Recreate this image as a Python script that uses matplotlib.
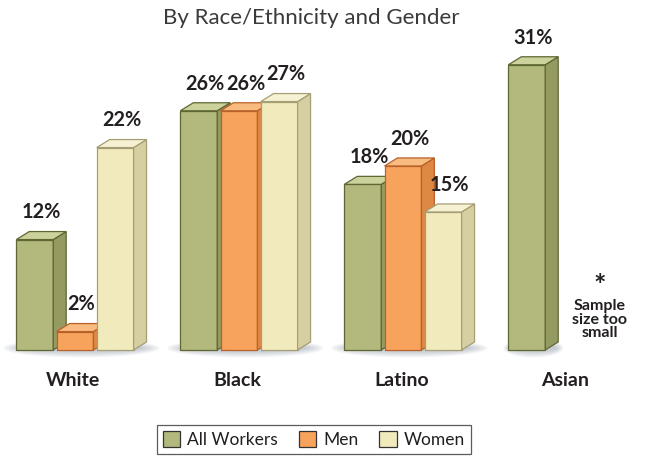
import matplotlib.pyplot as plt
from matplotlib.patches import Polygon, Patch, Ellipse
import numpy as np

# data
groups = ['White', 'Black', 'Latino', 'Asian']
series = ['All Workers', 'Men', 'Women']
all_workers = [12, 26, 18, 31]
men = [2, 26, 20, None]
women = [22, 27, 15, None]

front = ['#b3b87c', '#f7a35c', '#f0eabd']
side = ['#949a60', '#df8843', '#d6cfa2']
top = ['#cdd29d', '#f9bb80', '#f6f1d2']
edge = ['#5e6733', '#b8622a', '#a69e74']

plt.rcParams['font.family'] = ['Lato', 'DejaVu Sans']

fig = plt.figure(figsize=(6.48, 4.61), dpi=100)
ax = fig.add_axes([0, 0, 1, 1])
ax.set_xlim(-0.457, 3.494)
ax.set_ylim(-12.07, 38.04)
ax.axis('off')

w = 0.225
offs = [-0.245, 0.0, 0.245]
dx, dy = 0.079, 0.87

# soft shadow under bars
for i in range(4):
    n = 1 if i == 3 else 3
    left = i + offs[0] - w / 2
    right = i + offs[n - 1] + w / 2 + dx
    cx = (left + right) / 2
    for k in range(6):
        ax.add_patch(Ellipse((cx, 0.2), (right - left) * (1.2 - 0.05 * k), 2.0 - 0.25 * k,
                             color='#6a7388', alpha=0.07, lw=0, zorder=1))

for j, vals in enumerate([all_workers, men, women]):
    for i, v in enumerate(vals):
        if v is None:
            continue
        x0 = i + offs[j] - w / 2
        x1 = x0 + w
        ax.bar(x0, v, width=w, align='edge', color=front[j], edgecolor=edge[j],
               linewidth=0.9, zorder=3 + j)
        ax.add_patch(Polygon([(x1, 0), (x1 + dx, dy), (x1 + dx, v + dy), (x1, v)],
                             closed=True, fc=side[j], ec=edge[j], lw=0.9, zorder=3 + j))
        ax.add_patch(Polygon([(x0, v), (x0 + dx, v + dy), (x1 + dx, v + dy), (x1, v)],
                             closed=True, fc=top[j], ec=edge[j], lw=0.9, zorder=3 + j))
        ax.text(x0 + (w + dx) / 2, v + dy + 1.0, f'{v}%', ha='center', va='bottom',
                fontsize=14.3, fontweight='bold', color='#231f20', zorder=10)

for i, g in enumerate(groups):
    ax.text(i - 0.01, -3.35, g, ha='center', va='center', fontsize=14,
            fontweight='bold', color='#231f20')

ax.text(3.2, 6.9, '*', ha='center', va='center', fontsize=21, fontweight='bold',
        color='#231f20')
ax.text(3.2, 3.3, 'Sample\nsize too\nsmall', ha='center', va='center', fontsize=11.5,
        fontweight='bold', color='#231f20', linespacing=0.98)

fig.text(0.481, 0.962, 'By Race/Ethnicity and Gender', ha='center', va='center',
         fontsize=16, color='#3a3a3a')

handles = [Patch(fc=front[k], ec='#333333', lw=0.9) for k in range(3)]
leg = ax.legend(handles, series, loc='center', bbox_to_anchor=(0.4846, 0.047),
                ncol=3, frameon=True, fancybox=False, fontsize=12.5,
                handlelength=1.0, handleheight=1.0, handletextpad=0.4,
                columnspacing=1.2, borderpad=0.35, labelcolor='#231f20')
leg.get_frame().set_edgecolor('#333333')
leg.get_frame().set_linewidth(0.9)

fig.savefig('out.png', dpi=100)
